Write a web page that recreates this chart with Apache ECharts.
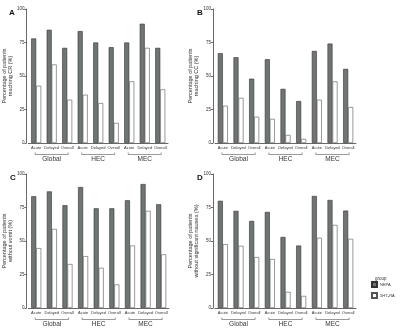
<!DOCTYPE html>
<html>
<head>
<meta charset="utf-8">
<script src="https://cdn.jsdelivr.net/npm/echarts@6/dist/echarts.min.js"></script>
<style>
  html, body { margin: 0; padding: 0; background: #fff; }
  #chart { width: 400px; height: 331px; }
</style>
</head>
<body>
<div id="chart"></div>
<script>
const categories = ['Acute', 'Delayed', 'Overall', 'Acute', 'Delayed', 'Overall', 'Acute', 'Delayed', 'Overall'];
const groups = ['Global', 'HEC', 'MEC'];
const groupSpans = [[0, 0, 2], [3, 0, 5], [6, 0, 8]];
const yTicks = [0, 25, 50, 75, 100];

const nepaA = [78, 84.5, 71, 83.5, 75, 71.5, 75, 89, 71];
const htA = [42.7, 58.6, 32.3, 36, 29.8, 15, 46, 71, 40];
const nepaB = [67, 64, 48, 62.5, 40.4, 31.3, 68.7, 74.2, 55.3];
const htB = [27.8, 33.7, 19.6, 18, 6, 3, 32.3, 46, 26.8];
const nepaC = [83.4, 87, 76.7, 90.3, 74.4, 74.4, 80.4, 92.5, 77.4];
const htC = [44.7, 59, 32.8, 38.7, 30, 17.6, 46.6, 72.5, 40];
const nepaD = [80, 72.5, 65, 71.7, 53, 46.6, 83.6, 80.6, 72.7];
const htD = [47.6, 46.4, 38, 36.5, 12, 9, 52.4, 62, 51.6];

const panels = [
  { tag: 'A', name: 'Percentage of patients\nreaching CR (%)', nepa: nepaA, ht: htA, left: 27, top: 9 },
  { tag: 'B', name: 'Percentage of patients\nreaching CC (%)', nepa: nepaB, ht: htB, left: 215, top: 9 },
  { tag: 'C', name: 'Percentage of patients\nwithout vomit (%)', nepa: nepaC, ht: htC, left: 28, top: 174 },
  { tag: 'D', name: 'Percentage of patients\nwithout significant nausea (%)', nepa: nepaD, ht: htD, left: 215, top: 174 }
];

const font = 'Liberation Sans, Arial, sans-serif';
const dark = '#6f7571';

let chart = echarts.init(document.getElementById('chart'));

let grid = [], xAxis = [], yAxis = [], series = [], title = [];

panels.forEach((p, i) => {
  grid.push({ left: p.left, top: p.top, width: 141, height: 134 });
  title.push({
    text: p.tag, left: p.left - 23, top: p.top - 5,
    textStyle: { fontSize: 8, fontWeight: 'bold', color: '#111', fontFamily: font }
  });
  xAxis.push({
    type: 'category', gridIndex: i, data: categories,
    axisLine: { lineStyle: { color: '#444', width: 0.8 } },
    axisTick: { show: false },
    axisLabel: { fontSize: 4, color: '#333', margin: 3, interval: 0, fontFamily: font }
  });
  xAxis.push({
    type: 'category', gridIndex: i, data: groups, position: 'bottom', offset: 12.5,
    axisLine: { show: false }, axisTick: { show: false },
    axisLabel: { fontSize: 6.5, color: '#333', margin: 0, interval: 0, fontFamily: font }
  });
  yAxis.push({
    type: 'value', gridIndex: i, min: 0, max: 100, interval: 25, offset: 2,
    name: p.name, nameLocation: 'middle', nameRotate: 90, nameGap: 11,
    nameTextStyle: { fontSize: 5.5, color: '#333', lineHeight: 6, fontFamily: font },
    splitLine: { show: false },
    axisLine: { show: true, lineStyle: { color: '#444', width: 0.8 } },
    axisTick: { show: true, length: 2, lineStyle: { color: '#444', width: 0.8 } },
    axisLabel: { fontSize: 4.5, color: '#333', margin: 2, fontFamily: font,
      formatter: v => yTicks.includes(v) ? String(v) : '' }
  });
  series.push({
    name: 'NEPA', type: 'bar', xAxisIndex: i * 2, yAxisIndex: i,
    data: p.nepa, barWidth: 5, barGap: '0%',
    itemStyle: { color: dark, borderColor: '#333', borderWidth: 0.6 }
  });
  series.push({
    name: '5HT\u2083RA', type: 'bar', xAxisIndex: i * 2, yAxisIndex: i,
    data: p.ht, barWidth: 5, barGap: '0%',
    itemStyle: { color: '#fff', borderColor: '#555', borderWidth: 0.6 }
  });
  // group brackets under the category labels
  series.push({
    type: 'custom', xAxisIndex: i * 2, yAxisIndex: i, silent: true, clip: false,
    data: groupSpans, encode: { x: 0, y: 1 },
    renderItem: (params, api) => {
      let s = api.coord([api.value(0), 0]);
      let e = api.coord([api.value(2), 0]);
      let y = s[1] + 11.5;
      return {
        type: 'polyline',
        shape: { points: [[s[0] - 1, y - 2], [s[0] - 1, y], [e[0] + 1, y], [e[0] + 1, y - 2]] },
        style: { stroke: '#555', lineWidth: 0.6, fill: null }
      };
    }
  });
});

title.push({
  text: 'group', left: 370, top: 271,
  textStyle: { fontSize: 4.5, fontWeight: 'normal', color: '#333', fontFamily: font }
});

let option = {
  animation: false,
  title: title,
  grid: grid,
  xAxis: xAxis,
  yAxis: yAxis,
  legend: {
    data: ['NEPA', '5HT\u2083RA'],
    orient: 'vertical', left: 369, top: 279, padding: 2,
    icon: 'rect', itemWidth: 5, itemHeight: 5, itemGap: 4,
    textStyle: { fontSize: 4, color: '#333', fontFamily: font, padding: [0, 0, 0, -2] }
  },
  series: series
};

chart.setOption(option);
</script>
</body>
</html>
